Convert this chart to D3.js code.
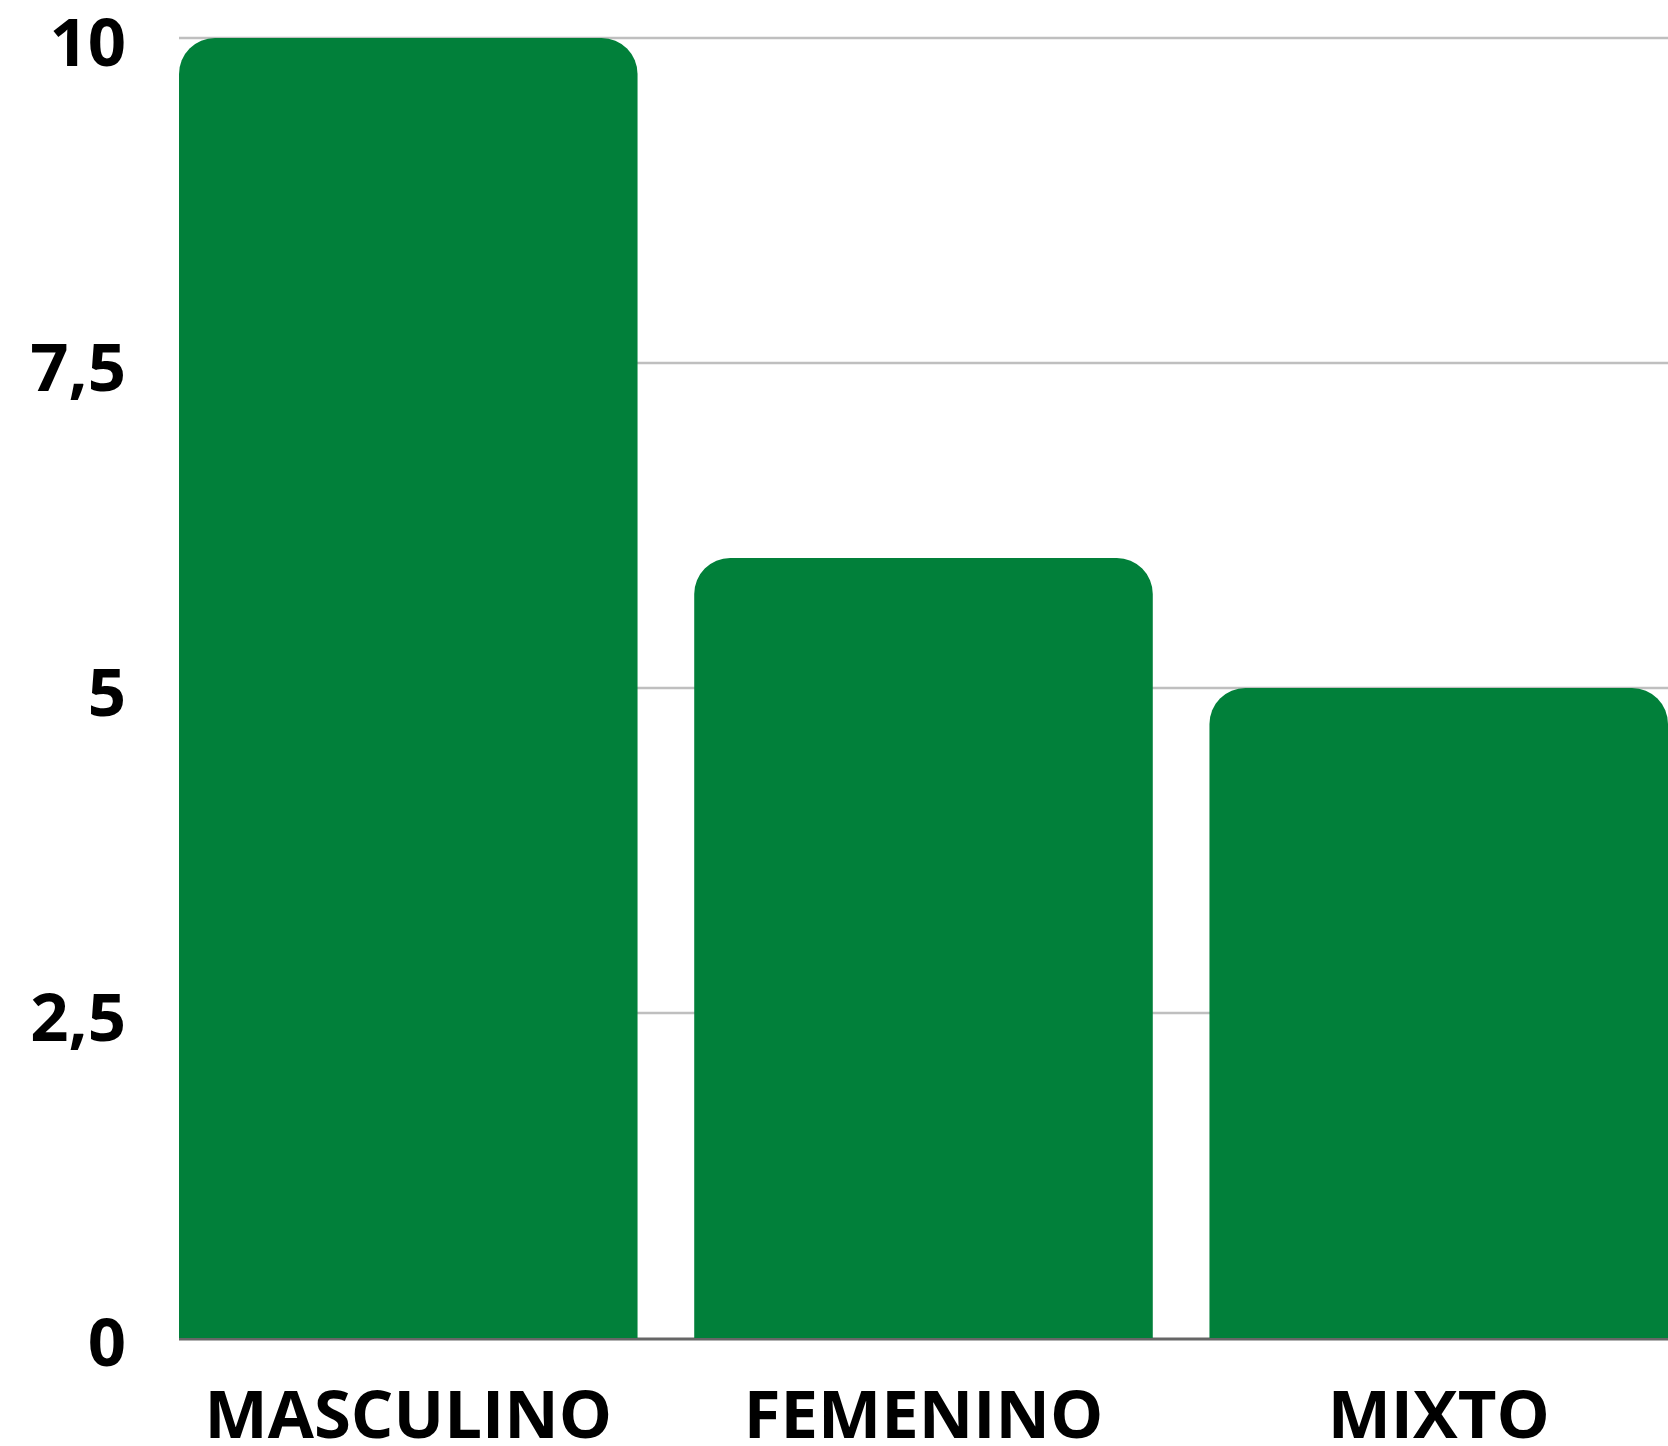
<!DOCTYPE html>
<html>
<head>
<meta charset="utf-8">
<script src="https://cdn.jsdelivr.net/npm/d3@7"></script>
<style>
  body { margin: 0; background: #fff; }
  text { font-family: "Open Sans", sans-serif; font-weight: 700; fill: #000; }
</style>
</head>
<body>
<script>
var categories = ["MASCULINO", "FEMENINO", "MIXTO"];
var values = [10, 6, 5];
var tickValues = [0, 2.5, 5, 7.5, 10];
var tickLabels = ["0", "2,5", "5", "7,5", "10"];

var width = 1668;
var height = 1446;
var left = 179;
var top_ = 38;
var bottom = 1338;
var radius = 36;

var svg = d3.select("body")
  .append("svg")
  .attr("width", width)
  .attr("height", height);

var x = d3.scaleBand()
  .domain(categories)
  .range([left, width])
  .paddingInner(0.11)
  .paddingOuter(0);

var y = d3.scaleLinear()
  .domain([0, 10])
  .range([bottom, top_]);

// gridlines
svg.selectAll("line.grid")
  .data(tickValues.filter(function (d) { return d > 0; }))
  .enter()
  .append("line")
  .attr("class", "grid")
  .attr("x1", left)
  .attr("x2", width)
  .attr("y1", function (d) { return y(d); })
  .attr("y2", function (d) { return y(d); })
  .attr("stroke", "#bfbfbf")
  .attr("stroke-width", 2.5);

// baseline
svg.append("line")
  .attr("x1", left)
  .attr("x2", width)
  .attr("y1", y(0) + 1)
  .attr("y2", y(0) + 1)
  .attr("stroke", "#666")
  .attr("stroke-width", 3);

function barPath(d, i) {
  var x0 = x(categories[i]);
  var w = x.bandwidth();
  var y0 = y(d);
  var yb = y(0);
  var r = Math.min(radius, (yb - y0));
  return "M" + x0 + "," + yb +
    "V" + (y0 + r) +
    "A" + r + "," + r + " 0 0 1 " + (x0 + r) + "," + y0 +
    "H" + (x0 + w - r) +
    "A" + r + "," + r + " 0 0 1 " + (x0 + w) + "," + (y0 + r) +
    "V" + yb + "Z";
}

svg.selectAll("path.bar")
  .data(values)
  .enter()
  .append("path")
  .attr("class", "bar")
  .attr("d", barPath)
  .attr("fill", "#01803a");

// y labels
svg.selectAll("text.ytick")
  .data(tickValues)
  .enter()
  .append("text")
  .attr("class", "ytick")
  .attr("x", 126)
  .attr("y", function (d) { return y(d) + 28; })
  .attr("text-anchor", "end")
  .style("font-size", "67px")
  .text(function (d, i) { return tickLabels[i]; });

// x labels
svg.selectAll("text.xtick")
  .data(categories)
  .enter()
  .append("text")
  .attr("class", "xtick")
  .attr("x", function (d) { return x(d) + x.bandwidth() / 2; })
  .attr("y", 1438)
  .attr("text-anchor", "middle")
  .style("font-size", "67px")
  .text(function (d) { return d; });
</script>
</body>
</html>
